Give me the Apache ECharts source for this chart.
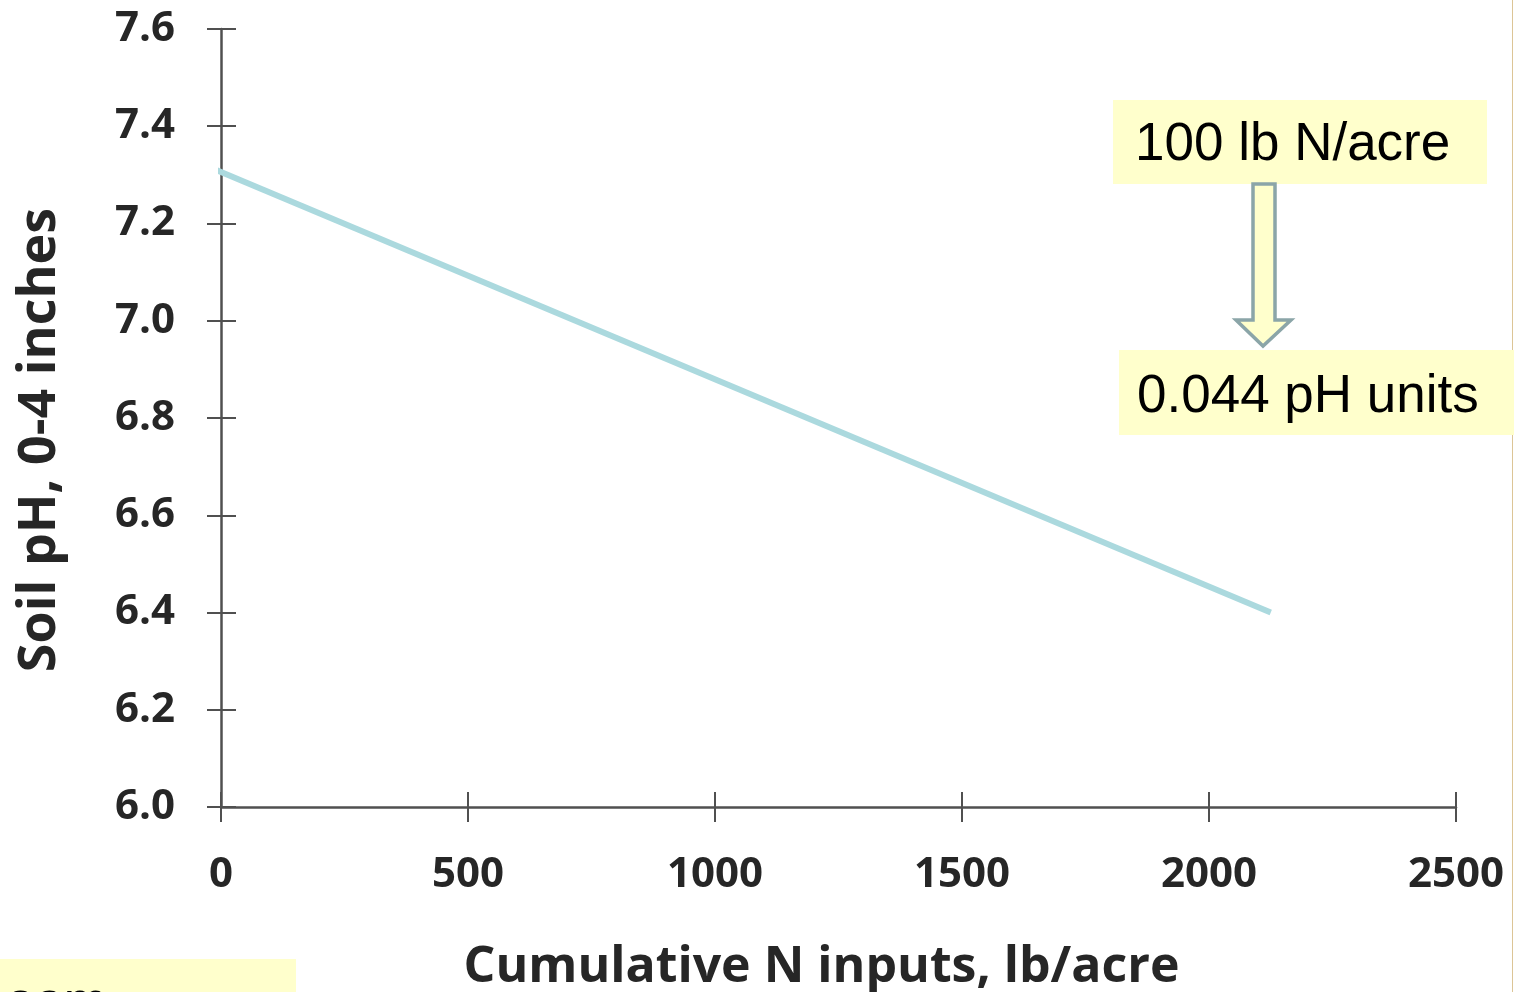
<!DOCTYPE html>
<html>
<head>
<meta charset="utf-8">
<script src="https://cdn.jsdelivr.net/npm/echarts@6/dist/echarts.min.js"></script>
<style>
html,body{margin:0;padding:0;background:#fff;}
#chart{width:1514px;height:992px;}
</style>
</head>
<body>
<div id="chart"></div>
<script>
// Data
const nInputs = [-10, 2125];          // cumulative N inputs, lb/acre (fitted line ends)
const soilPH = [7.31, 6.40];          // soil pH, 0-4 inches
const xTicks = [0, 500, 1000, 1500, 2000, 2500];
const yTicks = ['6.0','6.2','6.4','6.6','6.8','7.0','7.2','7.4','7.6'];
const xAxisTitle = 'Cumulative N inputs, lb/acre';
const yAxisTitle = 'Soil pH, 0-4 inches';
const noteTop = '100 lb N/acre';
const noteBottom = '0.044 pH units';
const cornerNote = 'oam';

const chart = echarts.init(document.getElementById('chart'));
const axisColor = '#505050';
const textColor = '#262626';
const labelFont = '"Open Sans", sans-serif';

const baseX = {
  type: 'value', min: xTicks[0], max: xTicks[xTicks.length-1], interval: 500,
  splitLine: {show: false}
};
const baseY = {
  type: 'value', min: Number(yTicks[0]), max: Number(yTicks[yTicks.length-1]), interval: 0.2,
  splitLine: {show: false}
};

const option = {
  animation: false,
  backgroundColor: '#ffffff',
  grid: {left: 221, right: 58, top: 29, bottom: 185, containLabel: false, outerBoundsMode: 'none'},
  xAxis: [
    Object.assign({}, baseX, {
      position: 'bottom',
      axisLine: {show: true, lineStyle: {color: axisColor, width: 2.5}},
      axisTick: {show: true, inside: false, length: 15, lineStyle: {color: axisColor, width: 2}},
      axisLabel: {show: true, margin: 47, color: textColor, fontFamily: labelFont, fontWeight: 'bold', fontSize: 42,
        formatter: v => String(v)},
      name: xAxisTitle, nameLocation: 'middle', nameGap: 136,
      nameTextStyle: {color: textColor, fontFamily: labelFont, fontWeight: 'bold', fontSize: 50, padding: [0, 34, 0, 0]}
    }),
    Object.assign({}, baseX, {
      position: 'bottom',
      axisLine: {show: false},
      axisTick: {show: true, inside: true, length: 15, lineStyle: {color: axisColor, width: 2}},
      axisLabel: {show: false}
    })
  ],
  yAxis: [
    Object.assign({}, baseY, {
      position: 'left',
      axisLine: {show: true, lineStyle: {color: axisColor, width: 2.5}},
      axisTick: {show: true, inside: false, length: 14, lineStyle: {color: axisColor, width: 2}},
      axisLabel: {show: true, margin: 46, color: textColor, fontFamily: labelFont, fontWeight: 'bold', fontSize: 42,
        formatter: v => v.toFixed(1)},
      name: yAxisTitle, nameLocation: 'middle', nameGap: 155, nameRotate: 90,
      nameTextStyle: {color: textColor, fontFamily: labelFont, fontWeight: 'bold', fontSize: 52, padding: [0, 44, 0, 0]}
    }),
    Object.assign({}, baseY, {
      position: 'left',
      axisLine: {show: false},
      axisTick: {show: true, inside: true, length: 15, lineStyle: {color: axisColor, width: 2}},
      axisLabel: {show: false}
    })
  ],
  series: [{
    type: 'line',
    xAxisIndex: 0, yAxisIndex: 0,
    data: nInputs.map((x, i) => [x, soilPH[i]]),
    showSymbol: false, symbol: 'none', clip: false,
    lineStyle: {color: '#ABD9DE', width: 6, cap: 'butt'}
  }],
  graphic: [
    {type: 'rect', shape: {x: 1113, y: 100, width: 374, height: 84}, style: {fill: '#FFFFCC'}, z: 10},
    {type: 'text', left: 1135, top: 119, style: {text: noteTop, font: '53px "Liberation Sans", Arial, sans-serif', fill: '#000000'}, z: 11},
    {type: 'rect', shape: {x: 1119, y: 350, width: 395, height: 85}, style: {fill: '#FFFFCC'}, z: 10},
    {type: 'text', left: 1137, top: 371, style: {text: noteBottom, font: '53px "Liberation Sans", Arial, sans-serif', fill: '#000000'}, z: 11},
    {type: 'polygon', shape: {points: [[1253,184],[1275,184],[1275,320],[1291,320],[1263,346],[1236,320],[1253,320]]},
      style: {fill: '#FFFFCC', stroke: '#8BA5A8', lineWidth: 3.5}, z: 12},
    {type: 'rect', shape: {x: 0, y: 959, width: 296, height: 40}, style: {fill: '#FFFFCC'}, z: 10},
    {type: 'text', x: 6, y: 978, style: {text: cornerNote, x: 0, y: 0, font: '52px "Liberation Sans", Arial, sans-serif', fill: '#000000', verticalAlign: 'top', align: 'left'}, z: 11},
    {type: 'line', shape: {x1: 1512.5, y1: 0, x2: 1512.5, y2: 992}, style: {stroke: '#DCC596', lineWidth: 1}, z: 5}
  ]
};
chart.setOption(option);
</script>
</body>
</html>
